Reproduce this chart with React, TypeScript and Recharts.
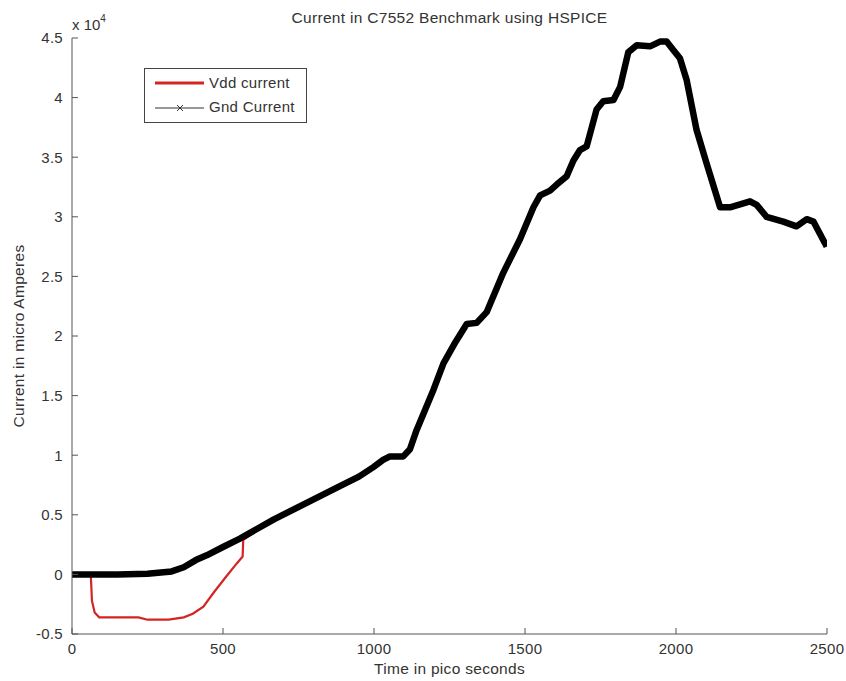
import { LineChart, Line, XAxis, YAxis } from "recharts";

// time in ps, current in micro amperes
const gndTime = [
  0, 150, 250, 330, 370, 410, 446, 500, 556, 667, 777, 887, 950, 998, 1030,
  1053, 1097, 1119, 1141, 1197, 1230, 1270, 1307, 1340, 1373, 1428, 1483,
  1528, 1550, 1583, 1605, 1638, 1660, 1682, 1704, 1737, 1759, 1793, 1815,
  1842, 1870, 1914, 1947, 1969, 1991, 2013, 2035, 2068, 2101, 2146, 2179,
  2245, 2267, 2300, 2355, 2399, 2433, 2455, 2499
];
const gndCurrent = [
  0, 0, 50, 250, 600, 1200, 1600, 2300, 3000, 4600, 6000, 7400, 8200, 9000,
  9600, 9900, 9900, 10500, 12100, 15500, 17700, 19500, 21000, 21100, 22000,
  25300, 28100, 30800, 31800, 32200, 32700, 33400, 34700, 35600, 35900,
  39000, 39700, 39800, 40900, 43800, 44400, 44300, 44700, 44700, 44000,
  43300, 41500, 37300, 34500, 30800, 30800, 31300, 31000, 30000, 29600,
  29200, 29800, 29600, 27500
];

// Vdd current where it separates from Gnd
const vddTime = [
  0, 62, 64, 66, 75, 90, 220, 250, 320, 370, 400, 435, 470, 510, 545, 565, 567
];
const vddCurrent = [
  0, 0, -1000, -2200, -3200, -3600, -3600, -3800, -3800, -3600, -3300, -2700,
  -1500, -200, 900, 1500, 2900
];

const xTicks = [0, 500, 1000, 1500, 2000, 2500];
const yTicks = [-5000, 0, 5000, 10000, 15000, 20000, 25000, 30000, 35000, 40000, 45000];

const gndData = gndTime.map((t, i) => ({ t, v: gndCurrent[i] }));
const vddData = [
  ...vddTime.map((t, i) => ({ t, v: vddCurrent[i] })),
  ...gndData.filter((d) => d.t > 570)
];

const font = "Arial, 'Liberation Sans', sans-serif";
const textColor = "#333";
const axisColor = "#555";
const red = "#d42424";

const tickStyle = { fontSize: 15, fill: textColor, fontFamily: font, letterSpacing: 0.3 };

export default function App() {
  return (
    <div
      style={{
        position: "absolute",
        left: 0,
        top: 0,
        width: 846,
        height: 681,
        background: "#fff",
        fontFamily: font,
        color: textColor
      }}
    >
      <LineChart
        width={846}
        height={681}
        margin={{ top: 38, right: 19, bottom: 17, left: 10 }}
      >
        <XAxis
          dataKey="t"
          type="number"
          domain={[0, 2500]}
          ticks={xTicks}
          allowDataOverflow
          height={30}
          tickSize={-6}
          tickMargin={15}
          stroke={axisColor}
          tick={tickStyle}
        />
        <XAxis
          xAxisId="top"
          orientation="top"
          type="number"
          domain={[0, 2500]}
          ticks={xTicks}
          allowDataOverflow
          height={0}
          tickSize={-6}
          tickFormatter={() => ""}
          stroke={axisColor}
        />
        <YAxis
          type="number"
          domain={[-5000, 45000]}
          ticks={yTicks}
          allowDataOverflow
          width={62}
          tickSize={-6}
          tickMargin={15}
          stroke={axisColor}
          tick={tickStyle}
          tickFormatter={(v: number) => String(v / 10000)}
        />
        <YAxis
          yAxisId="right"
          orientation="right"
          type="number"
          domain={[-5000, 45000]}
          ticks={yTicks}
          allowDataOverflow
          width={0}
          tickSize={-6}
          tickFormatter={() => ""}
          stroke={axisColor}
        />
        <Line
          data={vddData}
          dataKey="v"
          type="linear"
          stroke={red}
          strokeWidth={2.2}
          dot={false}
          isAnimationActive={false}
        />
        <Line
          data={gndData}
          dataKey="v"
          type="linear"
          stroke="#000"
          strokeWidth={6.5}
          strokeLinejoin="round"
          dot={false}
          isAnimationActive={false}
        />
      </LineChart>

      {/* title */}
      <div
        style={{
          position: "absolute",
          left: 72,
          width: 755,
          top: 9,
          textAlign: "center",
          fontSize: 15.5,
          letterSpacing: 0.3
        }}
      >
        Current in C7552 Benchmark using HSPICE
      </div>

      {/* exponent */}
      <div style={{ position: "absolute", left: 72, top: 15, fontSize: 15 }}>
        x 10<sup style={{ fontSize: 10, position: "relative", top: -2 }}>4</sup>
      </div>

      {/* x label */}
      <div
        style={{
          position: "absolute",
          left: 72,
          width: 755,
          top: 660,
          textAlign: "center",
          fontSize: 15.5,
          letterSpacing: 0.3
        }}
      >
        Time in pico seconds
      </div>

      {/* y label */}
      <div
        style={{
          position: "absolute",
          left: 19,
          top: 336,
          fontSize: 15.5,
          letterSpacing: 0.3,
          whiteSpace: "nowrap",
          transform: "translate(-50%, -50%) rotate(-90deg)"
        }}
      >
        Current in micro Amperes
      </div>

      {/* legend */}
      <div
        style={{
          position: "absolute",
          left: 144,
          top: 68,
          width: 161,
          height: 53,
          border: "1.5px solid #444",
          background: "#fff",
          fontSize: 15,
          letterSpacing: 0.3
        }}
      >
        <svg width={60} height={53} style={{ position: "absolute", left: 8, top: 0 }}>
          <line x1={2} y1={14} x2={51} y2={14} stroke={red} strokeWidth={3} />
          <line x1={2} y1={39} x2={51} y2={39} stroke="#333" strokeWidth={1} />
          <line x1={24} y1={36} x2={30} y2={42} stroke="#333" strokeWidth={1} />
          <line x1={24} y1={42} x2={30} y2={36} stroke="#333" strokeWidth={1} />
        </svg>
        <div style={{ position: "absolute", left: 64, top: 5 }}>Vdd current</div>
        <div style={{ position: "absolute", left: 64, top: 29 }}>Gnd Current</div>
      </div>
    </div>
  );
}
